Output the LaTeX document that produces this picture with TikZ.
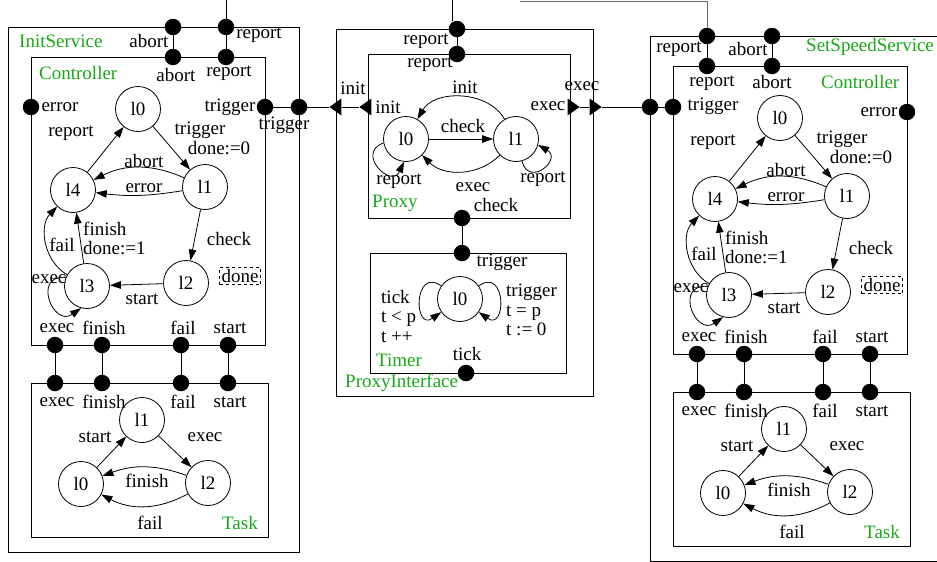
\documentclass[tikz,border=0pt]{standalone}
\usepackage{fontspec}
\setmainfont{Liberation Serif}
\usetikzlibrary{arrows.meta,shapes.geometric}

\definecolor{verde}{RGB}{24,168,24}

\tikzset{
  linea/.style={line width=0.8pt},
  caja/.style={draw, line width=0.9pt},
  estado/.style={circle, draw, line width=0.8pt, minimum size=45pt, inner sep=0pt},
  puerto/.style={circle, fill=black, inner sep=0pt, minimum size=16.5pt},
  disparo/.style={isosceles triangle, isosceles triangle stretches, fill=black,
    inner sep=0pt, minimum width=17pt, minimum height=12pt},
  trans/.style={linea, -{Triangle[length=11pt,width=7.5pt]}},
  titulo/.style={text=verde, inner sep=0pt},
  texto/.style={inner sep=0pt},
}

\begin{document}
\begin{tikzpicture}[x=1pt, y=-1pt, font=\fontsize{19}{19.5}\selectfont]
  \useasboundingbox (0,0) rectangle (937,562);

  % Partes comunes de los dos servicios (controlador y tarea).
  \foreach \s/\dx/\dy in {L/0/0, R/642/9}{
    \begin{scope}[shift={(\dx,\dy)}]
      % Cajas del servicio, del controlador y de la tarea
      \draw[caja] (8,27) rectangle (299,552);
      \draw[caja] (31,57) rectangle (265,345);
      \draw[caja] (31,383) rectangle (268,537);
      \node[titulo, anchor=east] (\s-tt) at (258,523) {Task};

      % Estados del controlador
      \node[estado] (\s-c0) at (138,109) {l0};
      \node[estado] (\s-c1) at (205,187) {l1};
      \node[estado] (\s-c2) at (186,283) {l2};
      \node[estado] (\s-c3) at (87,286) {l3};
      \node[estado] (\s-c4) at (73,190) {l4};
      \node[draw, dashed, linea, inner sep=2pt] (\s-done) at (240,276) {done};

      % Transiciones del controlador
      \draw[trans] (\s-c4) -- (\s-c0);
      \draw[trans] (\s-c0) -- (\s-c1);
      \draw[trans] (\s-c1) to[bend right=25] (\s-c4);
      \draw[trans] (\s-c1) to[bend left=8] (\s-c4);
      \draw[trans] (\s-c1) -- (\s-c2);
      \draw[trans] (\s-c2) -- (\s-c3);
      \draw[trans] (\s-c3) -- (\s-c4);
      \draw[trans] (\s-c3) to[bend left=52] (\s-c4);
      \draw[trans] (\s-c3.158) to[out=175,in=215,distance=34] (\s-c3.255);

      % Etiquetas de las transiciones
      \node[texto] (\s-e1) at (71,133) {report};
      \node[texto] (\s-e2) at (200,130) {trigger};
      \node[texto] (\s-e3) at (219,148) {done:=0};
      \node[texto] (\s-e4) at (144,161) {abort};
      \node[texto] (\s-e5) at (144,188) {error};
      \node[texto] (\s-e6) at (229,239) {check};
      \node[texto] (\s-e7) at (142,299) {start};
      \node[texto, anchor=west, align=left] (\s-e8) at (83,238.5) {finish\\done:=1};
      \node[texto] (\s-e9) at (62,245) {fail};
      \node[texto] (\s-e10) at (49,279) {exec};

      % Puertos entre el controlador y la tarea
      \foreach \p/\x in {exec/55, finish/102, fail/181, start/228}{
        \node[puerto] (\s-b\p) at (\x,345) {};
        \node[puerto] (\s-t\p) at (\x,383) {};
        \draw[linea] (\s-b\p) -- (\s-t\p);
        \node[texto] (\s-lb\p) at (\x+2,328) {\p};
        \node[texto] (\s-lt\p) at (\x+2,402) {\p};
      }

      % Estados y transiciones de la tarea
      \node[estado] (\s-k0) at (81,484) {l0};
      \node[estado] (\s-k1) at (142,420) {l1};
      \node[estado] (\s-k2) at (208,483) {l2};
      \draw[trans] (\s-k0) -- (\s-k1);
      \draw[trans] (\s-k1) -- (\s-k2);
      \draw[trans] (\s-k2) to[bend right=20] (\s-k0);
      \draw[trans] (\s-k2) to[bend left=28] (\s-k0);
      \node[texto] (\s-f1) at (95,437) {start};
      \node[texto] (\s-f2) at (205,437) {exec};
      \node[texto] (\s-f3) at (147,481) {finish};
      \node[texto] (\s-f4) at (150,523) {fail};
    \end{scope}
  }

  % Titulos de los servicios
  \node[titulo, anchor=west] (L-tit) at (19,41) {InitService};
  \node[titulo, anchor=west] (L-ctl) at (39,73) {Controller};
  \node[titulo, anchor=west] (R-tit) at (806,47) {SetSpeedService};
  \node[titulo, anchor=west] (R-ctl) at (821,82) {Controller};

  % Puertos del servicio InitService
  \node[puerto] (L-abo) at (173,27) {};
  \node[puerto] (L-abi) at (173,57) {};
  \node[puerto] (L-repo) at (226,27) {};
  \node[puerto] (L-repi) at (226,57) {};
  \node[puerto] (L-err) at (31,107) {};
  \node[puerto] (L-trigi) at (265,107) {};
  \node[puerto] (L-trigo) at (299,107) {};
  \node[texto] (L-labo) at (149,41) {abort};
  \node[texto] (L-lrepo) at (259,35) {report};
  \node[texto] (L-labi) at (176,75) {abort};
  \node[texto] (L-lrepi) at (229,73) {report};
  \node[texto] (L-lerr) at (60,107) {error};
  \node[texto] (L-ltrigi) at (230,107) {trigger};
  \node[texto] (L-ltrigo) at (284,125) {trigger};

  % Puertos del servicio SetSpeedService
  \node[puerto] (R-repo) at (707,36) {};
  \node[puerto] (R-repi) at (707,66) {};
  \node[puerto] (R-abo) at (772,36) {};
  \node[puerto] (R-abi) at (772,66) {};
  \node[puerto] (R-trigo) at (650,107) {};
  \node[puerto] (R-trigi) at (673,107) {};
  \node[puerto] (R-err) at (907,112) {};
  \node[texto] (R-lrepo) at (679,49) {report};
  \node[texto] (R-labo) at (748,49) {abort};
  \node[texto] (R-lrepi) at (712,83) {report};
  \node[texto] (R-labi) at (772,82) {abort};
  \node[texto] (R-ltrigi) at (713,106) {trigger};
  \node[texto] (R-lerr) at (879,112) {error};

  % Interfaz del proxy: cajas y titulos
  \draw[caja] (336,29) rectangle (593,396);
  \draw[caja] (368,54) rectangle (570,218);
  \draw[caja] (370,253) rectangle (566,373);
  \node[titulo, anchor=west] (pi-tit) at (345,383) {ProxyInterface};
  \node[titulo, anchor=west] (p-tit) at (372,203) {Proxy};
  \node[titulo, anchor=west] (t-tit) at (376,360) {Timer};

  % Estados y transiciones del proxy
  \node[estado] (p0) at (406,139) {l0};
  \node[estado] (p1) at (516,139) {l1};
  \draw[trans] (p0) -- (p1);
  \draw[trans] (p1) to[bend right=60] (p0);
  \draw[trans] (p1) to[bend left=45] (p0);
  \draw[trans] (p0.190) to[out=200,in=245,distance=30] (p0.265);
  \draw[trans] (p1.285) to[out=285,in=330,distance=28] (p1.345);
  \node[texto] (p-e1) at (465,87) {init};
  \node[texto] (p-e2) at (463,126) {check};
  \node[texto] (p-e3) at (473,187) {exec};
  \node[texto] (p-e4) at (399,181) {report};
  \node[texto] (p-e5) at (543,179) {report};

  % Temporizador
  \node[estado] (t0) at (460,299) {l0};
  \draw[trans] (t0.145) to[out=145,in=215,distance=34] (t0.215);
  \draw[trans] (t0.35) to[out=35,in=325,distance=34] (t0.325);
  \node[texto, anchor=west, align=left] (t-e1) at (381,316) {tick\\t < p\\t ++};
  \node[texto, anchor=west, align=left] (t-e2) at (506,310) {trigger\\t = p\\t := 0};

  % Puertos del proxy y del temporizador
  \node[puerto] (prep-o) at (457,29) {};
  \node[puerto] (prep-i) at (457,54) {};
  \node[disparo, shape border rotate=180] (pinit-o) at (337,107) {};
  \node[disparo, shape border rotate=180] (pinit-i) at (367,107) {};
  \node[disparo] (pexec-i) at (572,107) {};
  \node[disparo] (pexec-o) at (594,107) {};
  \node[puerto] (pcheck) at (462,218) {};
  \node[puerto] (ttrig) at (462,253) {};
  \node[puerto] (ttick) at (466,373) {};
  \node[texto] (lprep-o) at (426,41) {report};
  \node[texto] (lprep-i) at (430,64) {report};
  \node[texto] (lpinit-o) at (353,88) {init};
  \node[texto] (lpinit-i) at (388,107) {init};
  \node[texto] (lpexec-i) at (548,106) {exec};
  \node[texto] (lpexec-o) at (582,86) {exec};
  \node[texto] (lpcheck) at (496,205) {check};
  \node[texto] (lttrig) at (502,262) {trigger};
  \node[texto] (lttick) at (467,354) {tick};

  % Conexiones entre puertos
  \coordinate (topL) at (226,0);
  \coordinate (topP) at (457,0);
  \coordinate (topR) at (520,1);
  \draw[linea] (L-abo) -- (L-abi);
  \draw[linea] (L-repo) -- (L-repi);
  \draw[linea] (R-repo) -- (R-repi);
  \draw[linea] (R-abo) -- (R-abi);
  \draw[linea] (prep-o) -- (prep-i);
  \draw[linea] (pcheck) -- (ttrig);
  \draw[linea] (L-trigi) -- (L-trigo) -- (pinit-o) -- (pinit-i);
  \draw[linea] (pexec-i) -- (pexec-o) -- (R-trigo) -- (R-trigi);
  \draw[linea] (L-repo) -- (topL);
  \draw[linea, double, double distance=9pt] (prep-o) -- (topP);
  \draw[linea, black!60] (R-repo) |- (topR);
\end{tikzpicture}
\end{document}
